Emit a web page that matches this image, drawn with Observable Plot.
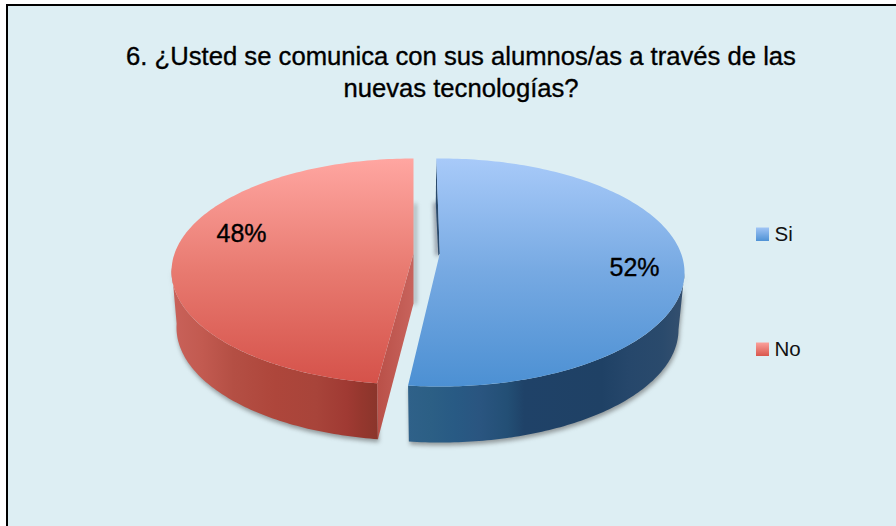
<!DOCTYPE html>
<html>
<head>
<meta charset="utf-8">
<script src="https://cdn.jsdelivr.net/npm/d3@7"></script>
<script src="https://cdn.jsdelivr.net/npm/@observablehq/plot@0.6"></script>
<style>
html,body{margin:0;padding:0;background:#fff;width:896px;height:526px;overflow:hidden}
#frame{position:absolute;left:6px;top:4px;width:888px;height:520px;border-left:2px solid #000;border-top:2px solid #000;background:#ddeef3}
#chart{position:absolute;left:0;top:0}
</style>
</head>
<body>
<div id="frame"></div>
<div id="chart"></div>
<script>
const categories = ["Si", "No"];
const shares = [52.4, 47.6];
const labels = ["52%", "48%"];
const titleText = "6. ¿Usted se comunica con sus alumnos/as a través de las\nnuevas tecnologías?";

const W = 896, H = 526;
const FONT = "Liberation Sans, Arial, Helvetica, sans-serif";

// Layout of each exploded slice, in page pixels
const layout = {
  Si: {rot: -1, top: {cx: 440, cy: 272, rx: 244, ry: 114}, low: {cx: 440, cy: 329, rx: 238, ry: 113},
       apex: [439.3, 253], apexLow: [439.3, 253], label: [634, 267], legendY: 234},
  No: {rot: 0, top: {cx: 413, cy: 271, rx: 242, ry: 113}, low: {cx: 413, cy: 327, rx: 237, ry: 113},
       apex: [413, 253], apexLow: [413, 303], label: [241, 233], legendY: 349}
};

const arcs = d3.pie().sort(null).value(d => d)(shares);
const deg = r => r * 180 / Math.PI;
const pt = (e, t) => ({x: e.cx + e.rx * Math.sin(t * Math.PI / 180), y: e.cy - e.ry * Math.cos(t * Math.PI / 180)});
const arcPts = (e, a, b) => {
  const n = Math.max(2, Math.ceil(Math.abs(b - a)));
  return d3.range(n + 1).map(i => pt(e, a + (b - a) * i / n));
};
const P = ([x, y]) => ({x, y});
const shape = (pts, fill, extra = {}) => Plot.line(pts, {x: "x", y: "y", fill, stroke: "none", curve: "linear", ...extra});

const [si, no] = categories.map((c, i) => ({
  ...layout[c],
  a: deg(arcs[i].startAngle) + layout[c].rot,
  b: deg(arcs[i].endAngle) + layout[c].rot
}));

// outlines
const siTop = [...arcPts(si.top, si.a, si.b), P(si.apex)];
const noTop = [...arcPts(no.top, no.a, no.b), P(no.apex)];
const siWall = [...arcPts(si.top, 90, si.b), ...arcPts(si.low, si.b, 90)];
const noWall = [...arcPts(no.top, no.a, 272), ...arcPts(no.low, 272, no.a)];
const noFace = [pt(no.top, no.a), pt(no.low, no.a), P(no.apexLow), P(no.apex)];
const siSliver = [pt(si.top, si.a), P(si.apex), {x: si.apex[0] - 1.5, y: si.apex[1] + 2}, {x: si.apex[0] - 4, y: si.apex[1] - 50}];

const shift = (pts, dx, dy) => pts.map(p => ({x: p.x + dx, y: p.y + dy}));
const sh = {fillOpacity: 0.55, imageFilter: "blur(2px)"};

function defs() {
  const d = d3.create("svg:defs");
  const grad = (id, horizontal, stops) => {
    const g = d.append("linearGradient").attr("id", id)
      .attr("x1", 0).attr("y1", 0).attr("x2", horizontal ? 1 : 0).attr("y2", horizontal ? 0 : 1);
    stops.forEach(([o, c]) => g.append("stop").attr("offset", o).attr("stop-color", c));
  };
  grad("gSiTop", false, [[0, "#a8caf9"], [0.5, "#76a9e2"], [1, "#4c90d3"]]);
  grad("gNoTop", false, [[0, "#ffa6a1"], [0.5, "#e87a70"], [1, "#d5524a"]]);
  grad("gSiWall", true, [[0, "#2f6189"], [0.08, "#2c5f85"], [0.17, "#285a84"], [0.26, "#2a5580"], [0.36, "#234f75"], [0.42, "#1f4268"], [0.7, "#1f4165"], [0.8, "#26476b"], [0.92, "#2a4a6c"], [1, "#35506f"]]);
  grad("gNoWall", true, [[0, "#c9625a"], [0.15, "#c25a50"], [0.3, "#b44f44"], [0.5, "#ae463b"], [0.7, "#a8443a"], [0.85, "#a03a33"], [0.92, "#95372e"], [1, "#8a352b"]]);
  grad("gNoFace", true, [[0, "#b95048"], [1, "#c8635c"]]);
  grad("gSwSi", false, [[0, "#a0c4f5"], [1, "#4f92d5"]]);
  grad("gSwNo", false, [[0, "#fba19b"], [1, "#d9564c"]]);
  return d.node();
}

const legendRows = categories.map(c => ({c, y: layout[c].legendY}));
const labelRows = categories.map((c, i) => ({t: labels[i], x: layout[c].label[0], y: layout[c].label[1]}));
const thick = {stroke: "#000", strokeWidth: 0.35, fill: "#000", fontFamily: FONT};

const plot = Plot.plot({
  width: W, height: H, margin: 0,
  style: {background: "transparent", fontFamily: FONT},
  x: {domain: [0, W], range: [0, W], axis: null},
  y: {domain: [0, H], range: [0, H], axis: null},
  marks: [
    defs,
    // soft shadows
    shape(shift(noWall, 1, 3), "#555", sh),
    shape(shift(siWall, 1, 3), "#555", sh),
    shape([{x: 413, y: 203}, {x: 416, y: 203}, {x: 416, y: 303}, {x: 413, y: 305}], "#666", sh),
    shape([{x: 433, y: 202}, {x: 438, y: 202}, {x: 439, y: 255}, {x: 435, y: 255}], "#445", sh),
    // side walls
    shape(noWall, "url(#gNoWall)"),
    shape(noFace, "url(#gNoFace)"),
    shape(siWall, "url(#gSiWall)"),
    shape(siSliver, "#2a4a6c"),
    // top faces
    shape(noTop, "url(#gNoTop)"),
    shape(siTop, "url(#gSiTop)"),
    // percent labels
    Plot.text(labelRows, {x: "x", y: "y", text: "t", fontSize: 25, ...thick}),
    // legend
    Plot.rect(legendRows.filter(d => d.c === "Si"), {x1: () => 756, x2: () => 769, y1: d => d.y - 6.5, y2: d => d.y + 7, fill: "url(#gSwSi)"}),
    Plot.rect(legendRows.filter(d => d.c === "No"), {x1: () => 756, x2: () => 769, y1: d => d.y - 6.5, y2: d => d.y + 7, fill: "url(#gSwNo)"}),
    Plot.text(legendRows, {x: () => 774, y: "y", text: "c", textAnchor: "start", fontSize: 20.5, fill: "#111", fontFamily: FONT}),
    // title
    Plot.text([titleText], {x: () => 460.5, y: () => 70, text: d => d, fontSize: 25.65, lineHeight: 1.25, ...thick})
  ]
});
document.getElementById("chart").append(plot);
</script>
</body>
</html>
